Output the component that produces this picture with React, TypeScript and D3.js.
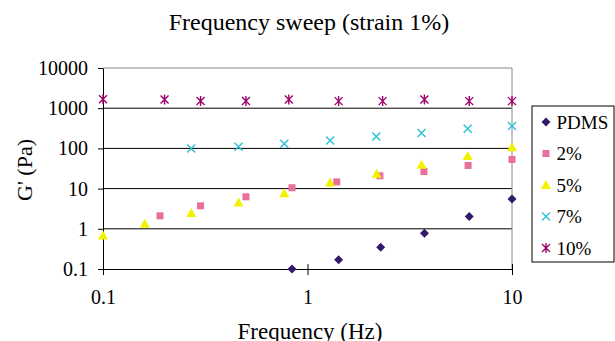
import React, { useRef, useEffect } from 'react';
import * as d3 from 'd3';

const seriesNames = ['PDMS', '2%', '5%', '7%', '10%'];
const seriesColors = ['#33196e', '#e8709c', '#f2f200', '#2ac0d6', '#9c006c'];

const pdmsFreq = [0.84, 1.42, 2.28, 3.73, 6.18, 10];
const pdmsG = [0.1, 0.17, 0.35, 0.78, 2.02, 5.5];

const p2Freq = [0.19, 0.3, 0.5, 0.84, 1.39, 2.26, 3.71, 6.1, 10];
const p2G = [2.1, 3.73, 6.25, 10.5, 14.7, 20.8, 26.6, 37.6, 53];

const p5Freq = [0.1, 0.16, 0.27, 0.46, 0.77, 1.29, 2.18, 3.61, 6.07, 10];
const p5G = [0.68, 1.33, 2.46, 4.5, 7.7, 14.2, 23.4, 39, 65, 107];

const p7Freq = [0.27, 0.46, 0.77, 1.29, 2.17, 3.61, 6.07, 10];
const p7G = [99.5, 110, 130, 157, 198, 240, 309, 359];

const p10Freq = [0.1, 0.2, 0.3, 0.5, 0.81, 1.42, 2.33, 3.73, 6.18, 10];
const p10G = [1680, 1645, 1520, 1520, 1650, 1500, 1500, 1650, 1500, 1500];

const xTicks = [0.1, 1, 10];
const yTicks = [0.1, 1, 10, 100, 1000, 10000];

const seriesData = [
  [pdmsFreq, pdmsG],
  [p2Freq, p2G],
  [p5Freq, p5G],
  [p7Freq, p7G],
  [p10Freq, p10G],
];

const font = '"Liberation Serif", "Times New Roman", serif';

// draws a marker centred on 0,0
function drawMarker(g: d3.Selection<SVGGElement, unknown, null, undefined>, i: number) {
  const c = seriesColors[i];
  if (i === 0) {
    g.append('path').attr('d', 'M0,-4.5L4.5,0L0,4.5L-4.5,0Z').attr('fill', c);
  } else if (i === 1) {
    g.append('rect').attr('x', -3.5).attr('y', -3.5).attr('width', 7).attr('height', 7).attr('fill', c);
  } else if (i === 2) {
    g.append('path').attr('d', 'M0,-5L5,4L-5,4Z').attr('fill', c);
  } else if (i === 3) {
    g.append('path').attr('d', 'M-4,-4L4,4M-4,4L4,-4').attr('stroke', c).attr('stroke-width', 1.4);
  } else {
    g.append('path')
      .attr('d', 'M-4,-4L4,4M-4,4L4,-4M0,-5L0,5')
      .attr('stroke', c)
      .attr('stroke-width', 1.4);
  }
}

const App: React.FC = () => {
  const svgRef = useRef<SVGSVGElement | null>(null);

  useEffect(() => {
    const svg = d3.select(svgRef.current);
    svg.selectAll('*').remove();
    const width = 615;
    const height = 341;
    const margin = { top: 68, right: 103, bottom: 72, left: 103 };

    svg.attr('width', width).attr('height', height).style('background', '#fff');

    const x = d3.scaleLog().domain([0.1, 10]).range([margin.left, width - margin.right]);
    const y = d3.scaleLog().domain([0.1, 10000]).range([height - margin.bottom, margin.top]);

    // gridlines
    svg
      .append('g')
      .selectAll('line')
      .data(yTicks.slice(1, 5))
      .enter()
      .append('line')
      .attr('x1', x(0.1))
      .attr('x2', x(10))
      .attr('y1', d => y(d))
      .attr('y2', d => y(d))
      .attr('stroke', '#000')
      .attr('stroke-width', 1);

    // top and right border (grey)
    svg
      .append('path')
      .attr('d', `M${x(0.1)},${y(10000)}H${x(10)}V${y(0.1)}`)
      .attr('fill', 'none')
      .attr('stroke', '#888')
      .attr('stroke-width', 1);

    const xAxis = svg
      .append('g')
      .attr('transform', `translate(0,${y(0.1)})`)
      .call(d3.axisBottom(x).tickValues(xTicks).tickFormat(d => String(d)).tickSize(6).tickSizeOuter(0).tickPadding(15));
    xAxis.select('.domain').attr('stroke', '#000');
    xAxis.selectAll('.tick line').attr('y1', -5);
    xAxis.selectAll('text').style('font-family', font).style('font-size', '20px').attr('fill', '#000');

    const yAxis = svg
      .append('g')
      .attr('transform', `translate(${x(0.1)},0)`)
      .call(d3.axisLeft(y).tickValues(yTicks).tickFormat(d => String(d)).tickSize(5).tickSizeOuter(0).tickPadding(10));
    yAxis.selectAll('text').style('font-family', font).style('font-size', '20px').attr('fill', '#000');

    // points
    seriesData.forEach(([fx, gv], i) => {
      fx.forEach((f, k) => {
        const g = svg.append('g').attr('transform', `translate(${x(f)},${y(gv[k])})`);
        drawMarker(g, i);
      });
    });

    // title
    svg
      .append('text')
      .attr('x', 309)
      .attr('y', 30)
      .attr('text-anchor', 'middle')
      .style('font-family', font)
      .style('font-size', '24px')
      .text('Frequency sweep (strain 1%)');

    svg
      .append('text')
      .attr('x', 310)
      .attr('y', 339)
      .attr('text-anchor', 'middle')
      .style('font-family', font)
      .style('font-size', '23px')
      .text('Frequency (Hz)');

    svg
      .append('text')
      .attr('transform', 'translate(32,170) rotate(-90)')
      .attr('text-anchor', 'middle')
      .style('font-family', font)
      .style('font-size', '22px')
      .text("G' (Pa)");

    // legend
    const legend = svg.append('g').attr('transform', 'translate(532,106)');
    legend
      .append('rect')
      .attr('x', 0)
      .attr('y', 0)
      .attr('width', 82)
      .attr('height', 156)
      .attr('fill', '#fff')
      .attr('stroke', '#000');

    seriesNames.forEach((name, i) => {
      const yy = 16 + i * 31.5;
      const m = legend.append('g').attr('transform', `translate(14,${yy})`);
      drawMarker(m, i);
      legend
        .append('text')
        .attr('x', 24.5)
        .attr('y', yy)
        .attr('dy', '0.35em')
        .style('font-family', font)
        .style('font-size', '19px')
        .text(name);
    });
  }, []);

  return (
    <svg ref={svgRef} style={{ position: 'absolute', left: 0, top: 0 }}></svg>
  );
};

export default App;
